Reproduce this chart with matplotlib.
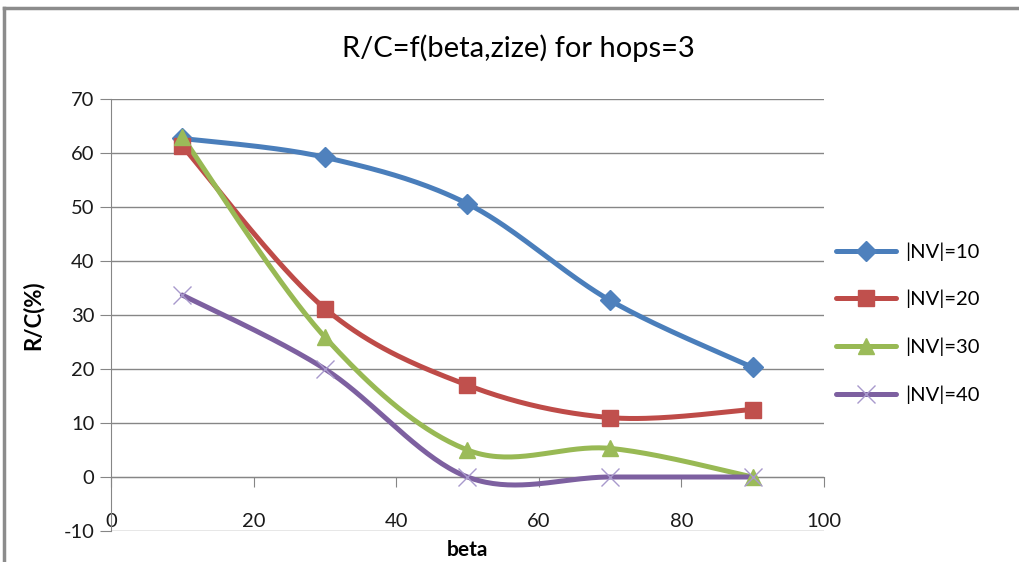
import numpy as np
import matplotlib.pyplot as plt
from matplotlib.lines import Line2D

plt.rcParams['font.family'] = ['Lato', 'DejaVu Sans']
plt.rcParams['axes.unicode_minus'] = False

beta = [10, 30, 50, 70, 90]
nv10 = [62.7, 59.2, 50.6, 32.7, 20.3]
nv20 = [61.3, 31.2, 17.0, 11.0, 12.5]
nv30 = [63.0, 25.9, 5.0, 5.3, 0.0]
nv40 = [33.7, 20.0, 0.0, 0.0, 0.0]
labels = ['|NV|=10', '|NV|=20', '|NV|=30', '|NV|=40']

xticks = [0, 20, 40, 60, 80, 100]
yticks = [-10, 0, 10, 20, 30, 40, 50, 60, 70]

GRID = '#868686'


def smooth(xs, ys, n=40):
    # spreadsheet-style smoothed line: cubic bezier with catmull-rom handles
    p = np.column_stack([xs, ys]).astype(float)
    p = np.vstack([p[0], p, p[-1]])
    out = []
    t = np.linspace(0, 1, n)[:, None]
    for i in range(1, len(p) - 2):
        p0, p1, p2, p3 = p[i - 1], p[i], p[i + 1], p[i + 2]
        c1 = p1 + (p2 - p0) / 6
        c2 = p2 - (p3 - p1) / 6
        seg = ((1 - t) ** 3) * p1 + 3 * ((1 - t) ** 2) * t * c1 \
            + 3 * (1 - t) * t ** 2 * c2 + t ** 3 * p2
        out.append(seg)
    seg = np.vstack(out)
    return seg[:, 0], seg[:, 1]


fig = plt.figure(figsize=(10.2, 5.62), dpi=100)
ax = fig.add_axes([111 / 1020, 1 - 531 / 562, 713 / 1020, 432 / 562])

styles = [
    dict(color='#4A7EBB', marker='D', mfc='#4F81BD', mec='#4F81BD', ms=10, mew=1),
    dict(color='#BE4B48', marker='s', mfc='#C0504D', mec='#C0504D', ms=12, mew=1),
    dict(color='#98B954', marker='^', mfc='#9BBB59', mec='#9BBB59', ms=12, mew=1),
    dict(color='#7D60A0', marker='x', mfc='none', mec='#A899CC', ms=13, mew=1),
]

handles = []
for ys, st, lab in zip([nv10, nv20, nv30, nv40], styles, labels):
    sx, sy = smooth(beta, ys)
    ax.plot(sx, sy, color=st['color'], lw=3.6, solid_capstyle='round', zorder=3)
    ax.plot(beta, ys, ls='none', marker=st['marker'], ms=st['ms'],
            mfc=st['mfc'], mec=st['mec'], mew=st['mew'], zorder=4)
    handles.append(Line2D([], [], color=st['color'], lw=3.6, marker=st['marker'],
                          ms=st['ms'], mfc=st['mfc'], mec=st['mec'],
                          mew=st['mew'], solid_capstyle='round', label=lab))

ax.set_xlim(0, 100)
ax.set_ylim(-10, 70)
ax.set_xticks(xticks)
ax.set_yticks(yticks)
ax.set_xticklabels([str(v) for v in xticks])
ax.yaxis.grid(True, color=GRID, lw=1)
ax.set_axisbelow(True)

for s in ['top', 'right']:
    ax.spines[s].set_visible(False)
ax.spines['bottom'].set_position(('data', 0))
ax.spines['bottom'].set_color(GRID)
ax.spines['left'].set_color(GRID)
ax.tick_params(axis='x', direction='out', length=7, color=GRID, pad=19,
               labelsize=14.5, labelcolor='#1a1a1a')
ax.tick_params(axis='y', direction='out', length=8, color=GRID, pad=4,
               labelsize=14.5, labelcolor='#1a1a1a')

ax.set_ylabel('R/C(%)', fontsize=16, fontweight='bold', labelpad=14)
fig.text(467 / 1020, 1 - 550 / 562, 'beta', fontsize=15, fontweight='bold',
         ha='center', va='center')
fig.text(518 / 1020, 1 - 48 / 562, 'R/C=f(beta,zize) for hops=3', fontsize=21,
         ha='center', va='center')

fig.legend(handles=handles, loc='upper left', bbox_to_anchor=(828 / 1020, 1 - 234 / 562),
           frameon=False, fontsize=14.5, handlelength=3.0, handletextpad=0.45,
           labelspacing=1.45, borderaxespad=0)

# chart frame: left and top edges
frame_kw = dict(transform=fig.transFigure, color='#8C8C8C', lw=2.5)
fig.lines.append(Line2D([4 / 1020, 4 / 1020], [0, 1 - 8 / 562], **frame_kw))
fig.lines.append(Line2D([4 / 1020, 1], [1 - 8 / 562, 1 - 8 / 562], **frame_kw))

fig.savefig('out.png', dpi=100)
